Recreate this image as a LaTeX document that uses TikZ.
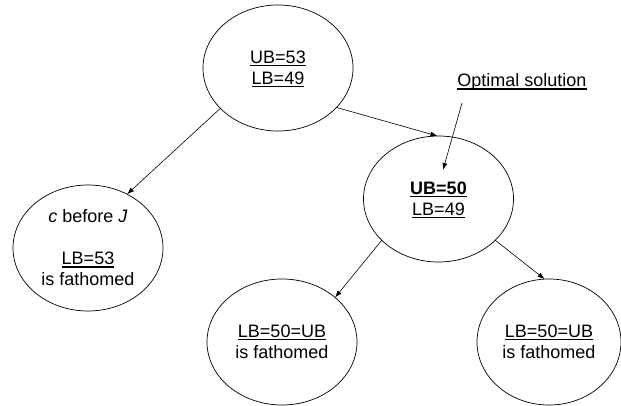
\documentclass[tikz,border=0pt]{standalone}
\usepackage{fontspec}
\setmainfont{Liberation Sans}
\usetikzlibrary{arrows.meta,shapes.geometric}
% underline drawn as a rule of fixed thickness just below the baseline
\newsavebox\ulsave
\newcommand\ulbox[1]{\sbox\ulsave{#1}\makebox[0pt][l]{\raisebox{-2.6pt}[0pt][0pt]{\rule{\wd\ulsave}{1.3pt}}}\usebox\ulsave}
\begin{document}
\begin{tikzpicture}[x=1pt,y=-1pt,
  bnode/.style={draw, ellipse, line width=0.7pt, minimum width=150pt,
    minimum height=126pt, inner sep=0pt, outer sep=0pt, align=center,
    font=\fontsize{18}{21}\selectfont},
  link/.style={line width=0.6pt, -{Latex[length=7pt,width=5pt]}}]
\useasboundingbox (0,0) rectangle (621,406);

% branch-and-bound tree
\node[bnode] (root) at (278,68) {\ulbox{UB=53}\\\ulbox{LB=49}};
\node[bnode] (left) at (88,248) {\textit{c} before \textit{J}\\[21pt]\ulbox{LB=53}\\is fathomed};
\node[bnode] (mid) at (438.5,199) {\ulbox{\textbf{UB=50}}\\\ulbox{LB=49}};
\node[bnode] (bl) at (282,342) {\ulbox{LB=50=UB}\\is fathomed};
\node[bnode, minimum width=144pt] (br) at (549,342) {\ulbox{LB=50=UB}\\is fathomed};

% annotation
\node[anchor=base, inner sep=0pt, font=\fontsize{18}{21}\selectfont] (opt) at (522,87) {\ulbox{Optimal solution}};
\coordinate (optTail) at (462,103);
\coordinate (optTip) at (443,170);

% branches
\draw[link] (root.215.3) -- (left.54.2);
\draw[link] (root.-34.1) -- (mid.91.4);
\draw[link] (mid.216) -- (bl.40.9);
\draw[link] (mid.-36.1) -- (br.94.4);
\draw[link] (optTail) -- (optTip);
\end{tikzpicture}
\end{document}
